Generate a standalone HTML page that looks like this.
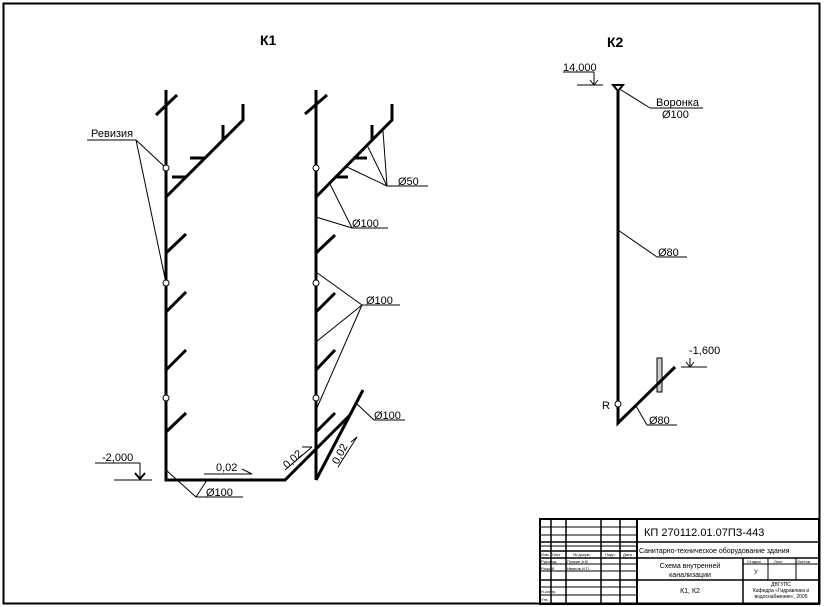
<!DOCTYPE html>
<html><head><meta charset="utf-8"><style>
html,body{margin:0;padding:0;background:#fff}
svg{display:block}
text{font-family:"Liberation Sans",sans-serif;fill:#000}
</style></head><body>
<svg width="824" height="607" viewBox="0 0 824 607" xmlns="http://www.w3.org/2000/svg">
<rect x="3.5" y="3.5" width="816" height="600" fill="none" stroke="#000" stroke-width="2"/>
<text x="260" y="45" font-size="14" font-weight="bold">К1</text>
<text x="607" y="47" font-size="14" font-weight="bold">К2</text>
<rect x="657" y="358" width="5" height="34" fill="#ccc" stroke="#000" stroke-width="1"/>

<g stroke="#000" stroke-width="3" fill="none" stroke-linecap="butt">
<polyline points="166,90 166,480 285,480 349,416"/>
<line x1="156" y1="115" x2="177" y2="95"/>
<polyline points="166,197 243,120 243,104"/>
<line x1="223" y1="125" x2="223" y2="140"/>
<line x1="190" y1="158" x2="205" y2="158"/>
<line x1="172" y1="177" x2="186" y2="177"/>
<line x1="166" y1="253" x2="186" y2="234"/>
<line x1="166" y1="312" x2="186" y2="292"/>
<line x1="166" y1="370" x2="186" y2="350"/>
<line x1="166" y1="432" x2="186" y2="413"/>
<line x1="316" y1="90" x2="316" y2="480"/>
<line x1="305" y1="114" x2="327" y2="95"/>
<polyline points="316,197 392,120 392,104"/>
<line x1="372" y1="125" x2="372" y2="140"/>
<line x1="353" y1="158" x2="367" y2="158"/>
<line x1="335" y1="177" x2="348" y2="177"/>
<line x1="316" y1="253" x2="335" y2="235"/>
<line x1="316" y1="312" x2="335" y2="293"/>
<line x1="316" y1="370" x2="335" y2="350"/>
<line x1="316" y1="432" x2="335" y2="413"/>
<line x1="316" y1="480" x2="363" y2="390"/>
<polyline points="618,88 618,423 675,367"/>
</g>

<g stroke="#000" stroke-width="1" fill="none">
<line x1="87" y1="140" x2="136" y2="140"/>
<line x1="136" y1="140" x2="166" y2="168"/>
<line x1="136" y1="140" x2="166" y2="283"/>
<line x1="387" y1="186" x2="428" y2="186"/>
<line x1="387" y1="186" x2="383" y2="131"/>
<line x1="387" y1="186" x2="368" y2="147"/>
<line x1="387" y1="186" x2="347" y2="167"/>
<line x1="352" y1="228" x2="388" y2="228"/>
<line x1="352" y1="228" x2="329" y2="182"/>
<line x1="352" y1="228" x2="316" y2="217"/>
<line x1="362" y1="305" x2="400" y2="305"/>
<line x1="362" y1="305" x2="316" y2="272"/>
<line x1="362" y1="305" x2="316" y2="342"/>
<line x1="362" y1="305" x2="316" y2="410"/>
<line x1="374" y1="420" x2="405" y2="420"/>
<line x1="374" y1="420" x2="357" y2="404"/>
<line x1="196" y1="497" x2="243" y2="497"/>
<line x1="196" y1="497" x2="166" y2="470"/>
<line x1="196" y1="497" x2="207" y2="480"/>
<line x1="95" y1="463" x2="140" y2="463"/>
<line x1="140" y1="463" x2="140" y2="479"/>
<line x1="114" y1="480" x2="152" y2="480"/>
<line x1="204" y1="474" x2="252" y2="474"/>
<line x1="242" y1="469" x2="252" y2="474"/>
<line x1="285" y1="470" x2="312" y2="447"/>
<line x1="302" y1="447" x2="312" y2="447"/>
<line x1="338" y1="467" x2="357" y2="437"/>
<line x1="357" y1="437" x2="351" y2="442"/>
<line x1="563" y1="72" x2="594" y2="72"/>
<line x1="594" y1="72" x2="594" y2="84"/>
<line x1="577" y1="85" x2="603" y2="85"/>
<line x1="618" y1="88" x2="650" y2="108"/>
<line x1="650" y1="108" x2="703" y2="108"/>
<line x1="618" y1="230" x2="657" y2="257"/>
<line x1="657" y1="257" x2="687" y2="257"/>
<line x1="681" y1="367" x2="707" y2="367"/>
<line x1="690" y1="358" x2="690" y2="366"/>
<line x1="636" y1="406" x2="647" y2="425"/>
<line x1="647" y1="425" x2="677" y2="425"/>
</g>
<path d="M135,473 L140,479 L145,473" stroke="#000" stroke-width="2" fill="none"/>
<path d="M590,80 L594,85 L598,80" stroke="#000" stroke-width="1" fill="none"/>
<path d="M686,362 L690,367 L694,362" stroke="#000" stroke-width="1" fill="none"/>
<path d="M613,85 L623,85 L618,91 Z" stroke="#000" stroke-width="2" fill="#fff"/>

<g fill="#fff" stroke="#000" stroke-width="1">
<circle cx="166" cy="168" r="3"/><circle cx="166" cy="283" r="3"/><circle cx="166" cy="398" r="3"/>
<circle cx="316" cy="168" r="3"/><circle cx="316" cy="283" r="3"/><circle cx="316" cy="398" r="3"/>
<circle cx="618" cy="404" r="3"/>
</g>

<g font-size="11">
<text x="91" y="137">Ревизия</text>
<text x="398" y="185">Ø50</text>
<text x="352" y="227">Ø100</text>
<text x="366" y="304">Ø100</text>
<text x="374" y="419">Ø100</text>
<text x="206" y="496">Ø100</text>
<text x="102" y="461">-2,000</text>
<text x="216" y="471">0,02</text>
<text x="0" y="0" transform="translate(287,469) rotate(-42)">0,02</text>
<text x="0" y="0" transform="translate(338,465) rotate(-62)">0,02</text>
<text x="563" y="71">14,000</text>
<text x="656" y="106">Воронка</text>
<text x="662" y="118">Ø100</text>
<text x="658" y="256">Ø80</text>
<text x="689" y="354">-1,600</text>
<text x="602" y="409">R</text>
<text x="649" y="424">Ø80</text>
</g>

<g stroke="#000" fill="none">
<rect x="540" y="519" width="279" height="85" stroke-width="2"/>
<line x1="637" y1="519" x2="637" y2="604" stroke-width="2"/>
<line x1="551" y1="519" x2="551" y2="604" stroke-width="1.5"/>
<line x1="566" y1="519" x2="566" y2="604" stroke-width="1.5"/>
<line x1="601" y1="519" x2="601" y2="604" stroke-width="1.5"/>
<line x1="620" y1="519" x2="620" y2="604" stroke-width="1.5"/>
<line x1="540" y1="527" x2="637" y2="527" stroke-width="1"/>
<line x1="540" y1="535" x2="637" y2="535" stroke-width="1"/>
<line x1="540" y1="542" x2="819" y2="542" stroke-width="1.5"/>
<line x1="540" y1="546" x2="637" y2="546" stroke-width="1"/>
<line x1="540" y1="551" x2="637" y2="551" stroke-width="1.5"/>
<line x1="540" y1="558" x2="819" y2="558" stroke-width="1.5"/>
<line x1="540" y1="564" x2="637" y2="564" stroke-width="1"/>
<line x1="540" y1="571" x2="637" y2="571" stroke-width="1"/>
<line x1="540" y1="580" x2="819" y2="580" stroke-width="1.5"/>
<line x1="540" y1="587" x2="637" y2="587" stroke-width="1"/>
<line x1="540" y1="595" x2="637" y2="595" stroke-width="1"/>
<line x1="743" y1="558" x2="743" y2="604" stroke-width="1.5"/>
<line x1="768" y1="558" x2="768" y2="580" stroke-width="1"/>
<line x1="796" y1="558" x2="796" y2="580" stroke-width="1"/>
<line x1="743" y1="564" x2="819" y2="564" stroke-width="1"/>
</g>
<g font-size="4">
<text x="541" y="556">Изм.</text><text x="552" y="556">Лист</text><text x="573" y="556">№ докум.</text><text x="605" y="556">Подп.</text><text x="623" y="556">Дата</text>
<text x="541" y="563">Руковод.</text><text x="567" y="563">Пупкин А.В.</text>
<text x="541" y="570">Разраб.</text><text x="567" y="570">Иванов И.П.</text>
<text x="541" y="593">Н.контр.</text><text x="541" y="601">Утв.</text>
<text x="747" y="563">Стадия</text><text x="774" y="563">Лист</text><text x="797" y="563">Листов</text>
</g>
<text x="644" y="536" font-size="11">КП 270112.01.07ПЗ-443</text>
<text x="639" y="553" font-size="7">Санитарно-техническое оборудование здания</text>
<text x="690" y="568" font-size="7" text-anchor="middle">Схема внутренней</text>
<text x="690" y="577" font-size="7" text-anchor="middle">канализации</text>
<text x="754" y="574" font-size="6">У</text>
<text x="690" y="593" font-size="7" text-anchor="middle">К1, К2</text>
<text x="781" y="586" font-size="5" text-anchor="middle">ДВГУПС</text>
<text x="781" y="592" font-size="5" text-anchor="middle">Кафедра «Гидравлика и</text>
<text x="781" y="598" font-size="5" text-anchor="middle">водоснабжение», 2005</text>
</svg>
</body></html>
